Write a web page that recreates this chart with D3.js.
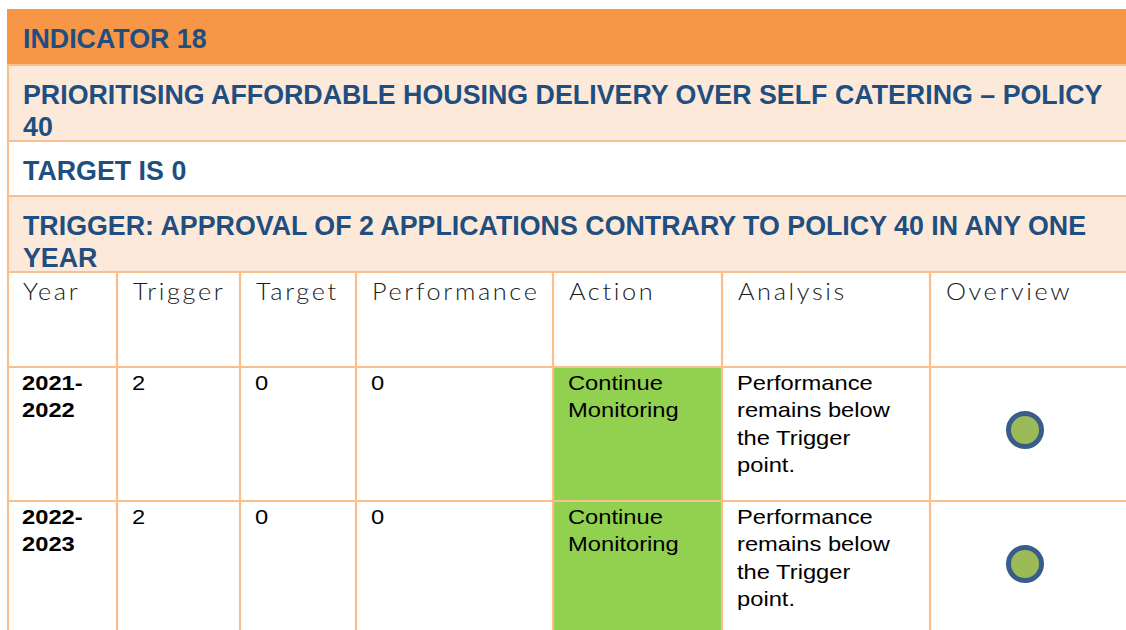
<!DOCTYPE html>
<html><head><meta charset="utf-8">
<script src="https://cdn.jsdelivr.net/npm/d3@7"></script>
<style>body{margin:0;background:#fff;overflow:hidden} svg{display:block}</style>
</head><body>
<svg id="c" width="1126" height="630"></svg>
<script>
// ---- data ----
const titleRows = [
  "INDICATOR 18",
  "PRIORITISING AFFORDABLE HOUSING DELIVERY OVER SELF CATERING – POLICY 40",
  "TARGET IS 0",
  "TRIGGER: APPROVAL OF 2 APPLICATIONS CONTRARY TO POLICY 40 IN ANY ONE YEAR"
];
const columns = ["Year", "Trigger", "Target", "Performance", "Action", "Analysis", "Overview"];
const years = ["2021-2022", "2022-2023"];
const triggerValues = [2, 2];
const targetValues = [0, 0];
const performanceValues = [0, 0];
const actions = ["Continue Monitoring", "Continue Monitoring"];
const analyses = ["Performance remains below the Trigger point.", "Performance remains below the Trigger point."];
const overviewStatus = ["green", "green"];

// ---- layout ----
const W = 1126, H = 630;
const colEdges = [7, 117, 240, 356, 553, 722, 930, 1140];
const titleEdges = [9, 65, 141, 196, 272];
const headerRow = [272, 367];
const dataEdges = [367, 501, 635];
const titleFills = ["#f79646", "#fde9d9", "#ffffff", "#fde9d9"];
const borderColor = "#fabf8f";
const titleColor = "#1f4e80";
const statusFill = {green: "#9bbb59"};
const actionFill = "#92d050";
const dataScaleX = 1.13;
const headScaleX = 1.1;

const svg = d3.select("#c");
svg.append("rect").attr("width", W).attr("height", H).attr("fill", "#fff");

const xCol = d3.scaleOrdinal().domain(columns).range(colEdges.slice(0, -1));
const colW = c => colEdges[columns.indexOf(c) + 1] - colEdges[columns.indexOf(c)];

function tokens(t) { return t.match(/[^\s-]+-?|-/g); }
function wrapLines(textSel, str, maxW, scale) {
  const toks = tokens(str);
  const lines = [];
  let cur = "";
  const measure = s => { textSel.text(s); return textSel.node().getComputedTextLength() * scale; };
  toks.forEach(tk => {
    const cand = cur === "" ? tk : (cur.endsWith("-") ? cur + tk : cur + " " + tk);
    if (cur !== "" && measure(cand) > maxW) { lines.push(cur); cur = tk; }
    else cur = cand;
  });
  if (cur !== "") lines.push(cur);
  textSel.text(null);
  return lines;
}

// ---- title rows ----
const tg = svg.append("g");
titleRows.forEach((t, i) => {
  const y0 = titleEdges[i], y1 = titleEdges[i + 1];
  tg.append("rect").attr("x", colEdges[0]).attr("y", y0).attr("width", W - colEdges[0]).attr("height", y1 - y0)
    .attr("fill", titleFills[i]);
  const txt = tg.append("text").attr("x", 23).attr("y", y0 + 39)
    .attr("font-family", "Liberation Sans, Arial, sans-serif").attr("font-weight", "bold")
    .attr("font-size", 26.8).attr("fill", titleColor);
  const lines = wrapLines(txt, t, 1084, 1);
  lines.forEach((l, k) => txt.append("tspan").attr("x", 23).attr("dy", k === 0 ? 0 : 32).text(l));
});

// ---- action cell fills ----
years.forEach((y, i) => {
  svg.append("rect").attr("x", xCol("Action")).attr("y", dataEdges[i])
    .attr("width", colW("Action")).attr("height", dataEdges[i + 1] - dataEdges[i]).attr("fill", actionFill);
});

// ---- borders ----
const lines = svg.append("g").attr("stroke", borderColor).attr("stroke-width", 2.2).attr("fill", "none");
[titleEdges[1], titleEdges[2], titleEdges[3], titleEdges[4], headerRow[1], dataEdges[1]].forEach(y => {
  lines.append("line").attr("x1", colEdges[0]).attr("x2", W).attr("y1", y).attr("y2", y);
});
lines.append("line").attr("x1", colEdges[0] + 1).attr("x2", colEdges[0] + 1).attr("y1", titleEdges[1]).attr("y2", H);
colEdges.slice(1, -1).forEach(x => {
  lines.append("line").attr("x1", x).attr("x2", x).attr("y1", headerRow[0]).attr("y2", H);
});

// ---- header row ----
svg.append("g").selectAll("text").data(columns).join("text")
  .attr("transform", c => `translate(${xCol(c) + 16},${headerRow[0] + 28}) scale(${headScaleX},1)`)
  .attr("font-family", "Lato, 'Open Sans', sans-serif").attr("font-weight", 300)
  .attr("font-size", 23).attr("letter-spacing", 2.4).attr("fill", "#1a1a1a")
  .text(c => c);

// ---- data rows ----
function cellText(col, i, str, bold, maxW) {
  const x = xCol(col) + 15;
  const y = dataEdges[i] + 23;
  const g = svg.append("g").attr("transform", `translate(${x},${y}) scale(${dataScaleX},1)`);
  const txt = g.append("text").attr("x", 0).attr("y", 0)
    .attr("font-family", "Liberation Sans, Arial, sans-serif").attr("font-size", 21)
    .attr("font-weight", bold ? "bold" : "normal").attr("fill", "#000");
  const ls = wrapLines(txt, String(str), maxW, dataScaleX);
  ls.forEach((l, k) => txt.append("tspan").attr("x", 0).attr("dy", k === 0 ? 0 : 27.5).text(l));
}
years.forEach((yr, i) => {
  cellText("Year", i, yr, true, 88);
  cellText("Trigger", i, triggerValues[i], false, 100);
  cellText("Target", i, targetValues[i], false, 100);
  cellText("Performance", i, performanceValues[i], false, 180);
  cellText("Action", i, actions[i], false, 150);
  cellText("Analysis", i, analyses[i], false, 172);
});

// ---- overview status circles ----
svg.append("g").selectAll("circle").data(overviewStatus).join("circle")
  .attr("cx", xCol("Overview") + 95)
  .attr("cy", (d, i) => dataEdges[i] + 63)
  .attr("r", 16.5)
  .attr("fill", d => statusFill[d])
  .attr("stroke", "#385d8a").attr("stroke-width", 5);
</script>
</body></html>
